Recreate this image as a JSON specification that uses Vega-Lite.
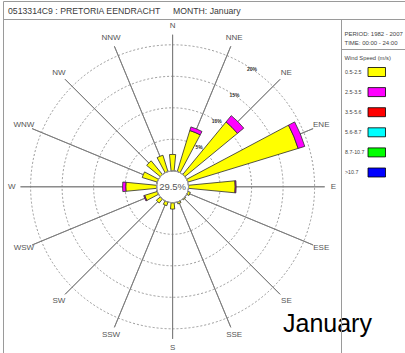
{
  "$schema": "https://vega.github.io/schema/vega-lite/v6.json",
  "width": 405,
  "height": 353,
  "autosize": "none",
  "padding": 0,
  "background": "white",
  "config": {"view": {"stroke": null}, "axis": {"disable": true}, "legend": {"disable": true}, "font": "Liberation Sans"},
  "datasets": {
    "one": [{}],
    "dirs": [
      {"dir": "N", "deg": 0}, {"dir": "NNE", "deg": 22.5}, {"dir": "NE", "deg": 45}, {"dir": "ENE", "deg": 67.5},
      {"dir": "E", "deg": 90}, {"dir": "ESE", "deg": 112.5}, {"dir": "SE", "deg": 135}, {"dir": "SSE", "deg": 157.5},
      {"dir": "S", "deg": 180}, {"dir": "SSW", "deg": 202.5}, {"dir": "SW", "deg": 225}, {"dir": "WSW", "deg": 247.5},
      {"dir": "W", "deg": 270}, {"dir": "WNW", "deg": 292.5}, {"dir": "NW", "deg": 315}, {"dir": "NNW", "deg": 337.5}
    ],
    "rings": [
      {"pct": 5, "label": "5%"}, {"pct": 10, "label": "10%"}, {"pct": 15, "label": "15%"}, {"pct": 20, "label": "20%"}
    ],
    "freq": [
      {"dir": "N", "deg": 0, "cls": "0.5-2.5", "pct": 2.6},
      {"dir": "NNE", "deg": 22.5, "cls": "0.5-2.5", "pct": 6.8},
      {"dir": "NNE", "deg": 22.5, "cls": "2.5-3.5", "pct": 0.6},
      {"dir": "NE", "deg": 45, "cls": "0.5-2.5", "pct": 10.8},
      {"dir": "NE", "deg": 45, "cls": "2.5-3.5", "pct": 1.3},
      {"dir": "ENE", "deg": 67.5, "cls": "0.5-2.5", "pct": 18.3},
      {"dir": "ENE", "deg": 67.5, "cls": "2.5-3.5", "pct": 1.1},
      {"dir": "E", "deg": 90, "cls": "0.5-2.5", "pct": 7.4},
      {"dir": "E", "deg": 90, "cls": "2.5-3.5", "pct": 0.15},
      {"dir": "ESE", "deg": 112.5, "cls": "0.5-2.5", "pct": 0.4},
      {"dir": "SE", "deg": 135, "cls": "0.5-2.5", "pct": 0.15},
      {"dir": "SSE", "deg": 157.5, "cls": "0.5-2.5", "pct": 0.3},
      {"dir": "S", "deg": 180, "cls": "0.5-2.5", "pct": 1.0},
      {"dir": "SSW", "deg": 202.5, "cls": "0.5-2.5", "pct": 0.6},
      {"dir": "SW", "deg": 225, "cls": "0.5-2.5", "pct": 0.8},
      {"dir": "WSW", "deg": 247.5, "cls": "0.5-2.5", "pct": 2.1},
      {"dir": "WSW", "deg": 247.5, "cls": "2.5-3.5", "pct": 0.15},
      {"dir": "W", "deg": 270, "cls": "0.5-2.5", "pct": 4.9},
      {"dir": "W", "deg": 270, "cls": "2.5-3.5", "pct": 0.5},
      {"dir": "WNW", "deg": 292.5, "cls": "0.5-2.5", "pct": 2.5},
      {"dir": "NW", "deg": 315, "cls": "0.5-2.5", "pct": 2.8},
      {"dir": "NNW", "deg": 337.5, "cls": "0.5-2.5", "pct": 2.7}
    ],
    "classes": [
      {"cls": "0.5-2.5"}, {"cls": "2.5-3.5"}, {"cls": "3.5-5.6"}, {"cls": "5.6-8.7"}, {"cls": "8.7-10.7"}, {"cls": ">10.7"}
    ]
  },
  "layer": [
    {
      "layer": [
        {
          "data": {"name": "one"},
          "mark": {"type": "rect", "filled": false, "stroke": "#9a9a9a", "strokeWidth": 1},
          "encoding": {
            "x": {"datum": 3.5, "type": "quantitative", "scale": {"domain": [0, 405], "nice": false, "zero": false}},
            "x2": {"datum": 420},
            "y": {"datum": 1.5, "type": "quantitative", "scale": {"domain": [0, 353], "nice": false, "zero": false, "reverse": true}},
            "y2": {"datum": 370}
          }
        },
        {
          "data": {"name": "one"},
          "mark": {"type": "rule", "stroke": "#9a9a9a", "strokeWidth": 1},
          "encoding": {
            "x": {"datum": 3.5, "type": "quantitative", "scale": {"domain": [0, 405], "nice": false, "zero": false}},
            "x2": {"datum": 405},
            "y": {"datum": 19.5, "type": "quantitative", "scale": {"domain": [0, 353], "nice": false, "zero": false, "reverse": true}}
          }
        },
        {
          "data": {"name": "one"},
          "mark": {"type": "rule", "stroke": "#9a9a9a", "strokeWidth": 1},
          "encoding": {
            "x": {"datum": 341.5, "type": "quantitative", "scale": {"domain": [0, 405], "nice": false, "zero": false}},
            "x2": {"datum": 405},
            "y": {"datum": 49.5, "type": "quantitative", "scale": {"domain": [0, 353], "nice": false, "zero": false, "reverse": true}}
          }
        },
        {
          "data": {"name": "one"},
          "mark": {"type": "text", "text": "0513314C9 : PRETORIA EENDRACHT", "align": "left", "baseline": "middle", "fontSize": 8.7, "fill": "#3a3a3a"},
          "encoding": {
            "x": {"datum": 8, "type": "quantitative", "scale": {"domain": [0, 405], "nice": false, "zero": false}},
            "y": {"datum": 10.5, "type": "quantitative", "scale": {"domain": [0, 353], "nice": false, "zero": false, "reverse": true}}
          }
        },
        {
          "data": {"name": "one"},
          "mark": {"type": "text", "text": "MONTH: January", "align": "left", "baseline": "middle", "fontSize": 8.7, "fill": "#3a3a3a"},
          "encoding": {
            "x": {"datum": 173, "type": "quantitative", "scale": {"domain": [0, 405], "nice": false, "zero": false}},
            "y": {"datum": 10.5, "type": "quantitative", "scale": {"domain": [0, 353], "nice": false, "zero": false, "reverse": true}}
          }
        },
        {
          "data": {"name": "one"},
          "mark": {"type": "text", "text": "PERIOD: 1982 - 2007", "align": "left", "baseline": "middle", "fontSize": 6, "fill": "#444"},
          "encoding": {
            "x": {"datum": 344.5, "type": "quantitative", "scale": {"domain": [0, 405], "nice": false, "zero": false}},
            "y": {"datum": 34, "type": "quantitative", "scale": {"domain": [0, 353], "nice": false, "zero": false, "reverse": true}}
          }
        },
        {
          "data": {"name": "one"},
          "mark": {"type": "text", "text": "TIME: 00:00 - 24:00", "align": "left", "baseline": "middle", "fontSize": 6, "fill": "#444"},
          "encoding": {
            "x": {"datum": 344.5, "type": "quantitative", "scale": {"domain": [0, 405], "nice": false, "zero": false}},
            "y": {"datum": 43.3, "type": "quantitative", "scale": {"domain": [0, 353], "nice": false, "zero": false, "reverse": true}}
          }
        },
        {
          "data": {"name": "one"},
          "mark": {"type": "text", "text": "Wind Speed (m/s)", "align": "left", "baseline": "middle", "fontSize": 5.8, "fill": "#444"},
          "encoding": {
            "x": {"datum": 344.5, "type": "quantitative", "scale": {"domain": [0, 405], "nice": false, "zero": false}},
            "y": {"datum": 58, "type": "quantitative", "scale": {"domain": [0, 353], "nice": false, "zero": false, "reverse": true}}
          }
        },
        {
          "data": {"name": "rings"},
          "mark": {"type": "arc", "filled": false, "stroke": "#808080", "strokeWidth": 0.8, "strokeDash": [2, 2]},
          "encoding": {
            "x": {"datum": 172.6, "type": "quantitative", "scale": {"domain": [0, 405], "nice": false, "zero": false}},
            "y": {"datum": 186.8, "type": "quantitative", "scale": {"domain": [0, 353], "nice": false, "zero": false, "reverse": true}},
            "theta": {"datum": 0, "type": "quantitative", "stack": null, "scale": {"type": "linear", "domain": [0, 360], "range": [0, 6.283185307179586]}},
            "theta2": {"datum": 360},
            "radius": {"field": "pct", "type": "quantitative", "stack": null, "scale": {"type": "linear", "domain": [0, 20], "range": [16, 142], "zero": false}}
          }
        },
        {
          "data": {"name": "dirs"},
          "mark": {"type": "arc", "filled": false, "stroke": "#7a7a7a", "strokeWidth": 0.9},
          "encoding": {
            "x": {"datum": 172.6, "type": "quantitative", "scale": {"domain": [0, 405], "nice": false, "zero": false}},
            "y": {"datum": 186.8, "type": "quantitative", "scale": {"domain": [0, 353], "nice": false, "zero": false, "reverse": true}},
            "theta": {"field": "deg", "type": "quantitative", "stack": null, "scale": {"type": "linear", "domain": [0, 360], "range": [0, 6.283185307179586]}},
            "theta2": {"field": "deg"},
            "radius": {"datum": 21.6, "type": "quantitative", "stack": null, "scale": {"type": "linear", "domain": [0, 20], "range": [16, 142], "zero": false}},
            "radius2": {"datum": 0}
          }
        },
        {
          "data": {"name": "freq"},
          "transform": [
            {"stack": "pct", "groupby": ["dir"], "sort": [{"field": "cls", "order": "ascending"}], "as": ["lo", "hi"]}
          ],
          "mark": {"type": "arc", "stroke": "#2b2b2b", "strokeWidth": 0.8, "thetaOffset": -0.096, "theta2Offset": 0.096},
          "encoding": {
            "x": {"datum": 172.6, "type": "quantitative", "scale": {"domain": [0, 405], "nice": false, "zero": false}},
            "y": {"datum": 186.8, "type": "quantitative", "scale": {"domain": [0, 353], "nice": false, "zero": false, "reverse": true}},
            "theta": {"field": "deg", "type": "quantitative", "stack": null, "scale": {"type": "linear", "domain": [0, 360], "range": [0, 6.283185307179586]}},
            "theta2": {"field": "deg"},
            "radius": {"field": "hi", "type": "quantitative", "stack": null, "scale": {"type": "linear", "domain": [0, 20], "range": [16, 142], "zero": false}},
            "radius2": {"field": "lo"},
            "color": {"field": "cls", "type": "nominal", "legend": null, "scale": {"domain": ["0.5-2.5", "2.5-3.5", "3.5-5.6", "5.6-8.7", "8.7-10.7", ">10.7"], "range": ["#ffff00", "#ff00ff", "#ff0000", "#00ffff", "#00ff00", "#0000ff"]}}
          }
        },
        {
          "data": {"name": "one"},
          "mark": {"type": "arc", "fill": "white", "stroke": "#9a9a9a", "strokeWidth": 0.8},
          "encoding": {
            "x": {"datum": 172.6, "type": "quantitative", "scale": {"domain": [0, 405], "nice": false, "zero": false}},
            "y": {"datum": 186.8, "type": "quantitative", "scale": {"domain": [0, 353], "nice": false, "zero": false, "reverse": true}},
            "theta": {"datum": 0, "type": "quantitative", "stack": null, "scale": {"type": "linear", "domain": [0, 360], "range": [0, 6.283185307179586]}},
            "theta2": {"datum": 360},
            "radius": {"datum": 0, "type": "quantitative", "stack": null, "scale": {"type": "linear", "domain": [0, 20], "range": [16, 142], "zero": false}}
          }
        },
        {
          "data": {"name": "one"},
          "mark": {"type": "text", "text": "29.5%", "align": "center", "baseline": "middle", "fontSize": 9.5, "fill": "#555"},
          "encoding": {
            "x": {"datum": 172.6, "type": "quantitative", "scale": {"domain": [0, 405], "nice": false, "zero": false}},
            "y": {"datum": 186.8, "type": "quantitative", "scale": {"domain": [0, 353], "nice": false, "zero": false, "reverse": true}}
          }
        },
        {
          "data": {"name": "dirs"},
          "mark": {"type": "text", "align": "center", "baseline": "middle", "fontSize": 8, "fill": "#555"},
          "encoding": {
            "x": {"datum": 172.6, "type": "quantitative", "scale": {"domain": [0, 405], "nice": false, "zero": false}},
            "y": {"datum": 186.8, "type": "quantitative", "scale": {"domain": [0, 353], "nice": false, "zero": false, "reverse": true}},
            "theta": {"field": "deg", "type": "quantitative", "stack": null, "scale": {"type": "linear", "domain": [0, 360], "range": [0, 6.283185307179586]}},
            "radius": {"datum": 23.0, "type": "quantitative", "stack": null, "scale": {"type": "linear", "domain": [0, 20], "range": [16, 142], "zero": false}},
            "text": {"field": "dir"}
          }
        },
        {
          "data": {"name": "rings"},
          "mark": {"type": "text", "align": "center", "baseline": "middle", "fontSize": 5, "fontWeight": "bold", "fill": "#333"},
          "encoding": {
            "x": {"datum": 172.6, "type": "quantitative", "scale": {"domain": [0, 405], "nice": false, "zero": false}},
            "y": {"datum": 186.8, "type": "quantitative", "scale": {"domain": [0, 353], "nice": false, "zero": false, "reverse": true}},
            "theta": {"datum": 34, "type": "quantitative", "stack": null, "scale": {"type": "linear", "domain": [0, 360], "range": [0, 6.283185307179586]}},
            "radius": {"field": "pct", "type": "quantitative", "stack": null, "scale": {"type": "linear", "domain": [0, 20], "range": [16, 142], "zero": false}},
            "text": {"field": "label"}
          }
        },
        {
          "data": {"name": "one"},
          "mark": {"type": "text", "text": "January", "align": "left", "baseline": "alphabetic", "fontSize": 25, "fill": "#000"},
          "encoding": {
            "x": {"datum": 283, "type": "quantitative", "scale": {"domain": [0, 405], "nice": false, "zero": false}},
            "y": {"datum": 332, "type": "quantitative", "scale": {"domain": [0, 353], "nice": false, "zero": false, "reverse": true}}
          }
        },
        {
          "data": {"name": "one"},
          "mark": {"type": "rule", "stroke": "#9a9a9a", "strokeWidth": 1},
          "encoding": {
            "x": {"datum": 341.5, "type": "quantitative", "scale": {"domain": [0, 405], "nice": false, "zero": false}},
            "y": {"datum": 19.5, "type": "quantitative", "scale": {"domain": [0, 353], "nice": false, "zero": false, "reverse": true}},
            "y2": {"datum": 353}
          }
        }
      ]
    },
    {
      "data": {"name": "classes"},
      "layer": [
        {
          "mark": {"type": "rect", "stroke": "#000", "strokeWidth": 0.8},
          "encoding": {
            "x": {"datum": 368, "type": "quantitative", "scale": {"domain": [0, 405], "nice": false, "zero": false}},
            "x2": {"datum": 385.5},
            "y": {"field": "cls", "type": "nominal", "sort": null, "scale": {"type": "band", "domain": ["0.5-2.5", "2.5-3.5", "3.5-5.6", "5.6-8.7", "8.7-10.7", ">10.7"], "range": [67.5, 177], "paddingInner": 0.5522, "paddingOuter": 0}},
            "color": {"field": "cls", "type": "nominal", "legend": null, "scale": {"domain": ["0.5-2.5", "2.5-3.5", "3.5-5.6", "5.6-8.7", "8.7-10.7", ">10.7"], "range": ["#ffff00", "#ff00ff", "#ff0000", "#00ffff", "#00ff00", "#0000ff"]}}
          }
        },
        {
          "mark": {"type": "text", "align": "left", "baseline": "middle", "fontSize": 5.3, "fill": "#444"},
          "encoding": {
            "x": {"datum": 345, "type": "quantitative", "scale": {"domain": [0, 405], "nice": false, "zero": false}},
            "y": {"field": "cls", "type": "nominal", "sort": null, "scale": {"type": "band", "domain": ["0.5-2.5", "2.5-3.5", "3.5-5.6", "5.6-8.7", "8.7-10.7", ">10.7"], "range": [67.5, 177], "paddingInner": 0.5522, "paddingOuter": 0}},
            "text": {"field": "cls"}
          }
        }
      ]
    }
  ],
  "resolve": {"scale": {"y": "independent"}}
}
